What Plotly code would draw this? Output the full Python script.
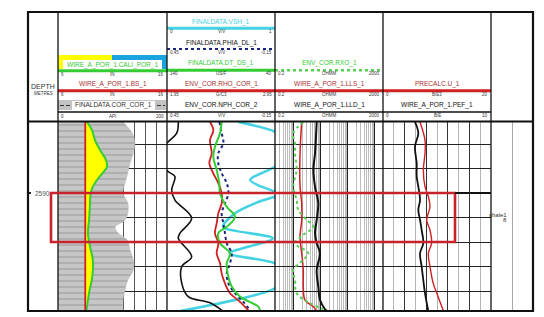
import plotly.graph_objects as go

DEPTH_TOP = 2587.102
DEPTH_BOTTOM = 2594.816
DEPTH_LABELS = [2590]

# Track 1
cor_depth = [2587.10, 2587.55, 2587.96, 2588.37, 2588.78, 2589.18, 2589.59, 2590.00, 2590.41, 2590.82,
             2591.10, 2591.39, 2591.63, 2591.92, 2592.33, 2592.73, 2593.14, 2593.55, 2593.96, 2594.37, 2594.82]
cor = [119, 136, 141, 138, 132, 128, 123, 119, 128, 128, 123, 105, 110, 127, 132, 138, 138, 128, 123, 119, 119]

bs_depth = [2587.10, 2594.82]
bs = [8.5, 8.5]

cali_depth = [2587.10, 2587.43, 2587.84, 2588.24, 2588.65, 2588.93, 2589.18, 2589.47, 2589.74, 2590.00,
              2590.41, 2591.10, 2591.63, 2592.19, 2592.73, 2593.14, 2593.55, 2594.08, 2594.64, 2594.82]
cali = [8.66, 9.12, 9.39, 9.85, 10.4, 10.5, 10.1, 9.58, 9.2, 9.0,
        8.94, 8.85, 8.75, 8.94, 9.2, 9.2, 9.1, 8.85, 8.66, 8.6]

# Track 2
vsh_depth = [2587.10, 2587.50, 2587.84, 2588.45, 2588.93, 2589.47, 2589.95, 2590.06, 2590.15, 2590.36,
             2590.86, 2591.38, 2591.85, 2592.46, 2592.87, 2593.35, 2593.89, 2594.82]
vsh = [0.66, 1.0, 1.1, 1.12, 1.0, 0.77, 1.0, 1.06, 1.0, 0.85,
       0.62, 0.52, 0.98, 0.58, 1.0, 1.12, 1.0, 0.12]

nph_depth = [2587.10, 2587.56, 2587.91, 2588.38, 2588.93, 2589.13, 2589.33, 2589.88, 2590.29, 2591.03,
             2591.64, 2591.85, 2592.60, 2593.00, 2593.69, 2594.23, 2594.48, 2594.82]
nph = [0.387, 0.396, 0.443, 0.50, 0.47, 0.443, 0.406, 0.424, 0.406, 0.313,
       0.378, 0.387, 0.313, 0.368, 0.368, 0.332, 0.211, 0.140]

rho_depth = [2587.10, 2587.43, 2587.84, 2588.38, 2588.79, 2589.20, 2589.60, 2590.01, 2590.42, 2590.83,
             2591.24, 2591.64, 2592.05, 2592.46, 2592.87, 2593.28, 2593.69, 2594.09, 2594.44, 2594.82]
rho = [2.348, 2.379, 2.348, 2.364, 2.342, 2.379, 2.425, 2.456, 2.456, 2.425,
       2.410, 2.394, 2.425, 2.410, 2.441, 2.456, 2.487, 2.533, 2.626, 2.710]

phia_depth = [2587.10, 2587.56, 2587.97, 2588.38, 2588.79, 2589.20, 2589.60, 2590.01, 2590.42, 2590.83,
              2591.24, 2591.64, 2592.05, 2592.46, 2592.87, 2593.28, 2593.69, 2594.09, 2594.44, 2594.82]
phia = [0.159, 0.146, 0.137, 0.165, 0.165, 0.146, 0.118, 0.109, 0.128, 0.146,
        0.137, 0.128, 0.118, 0.091, 0.100, 0.118, 0.109, 0.072, 0.026, -0.015]

dt_depth = [2587.10, 2587.56, 2588.11, 2588.52, 2589.06, 2589.60, 2590.01, 2590.56, 2590.97, 2591.38,
            2591.64, 2592.05, 2592.46, 2592.87, 2593.42, 2593.82, 2594.23, 2594.64, 2594.82]
dt = [89.4, 90.9, 95.6, 97.1, 94.0, 91.6, 90.9, 84.7, 77.0, 84.7,
      92.5, 90.9, 81.7, 84.7, 83.2, 80.1, 72.4, 55.5, 53.7]

# Track 3
rxo_depth = [2587.10, 2587.56, 2587.97, 2588.38, 2589.06, 2589.74, 2590.29, 2590.69, 2591.10, 2591.38,
             2591.71, 2592.05, 2592.46, 2592.73, 2593.14, 2593.55, 2594.09, 2594.50, 2594.82]
rxo = [2.23, 0.95, 1.1, 1.1, 1.27, 0.95, 1.27, 1.46, 2.99, 5.27,
       2.23, 1.1, 3.42, 2.23, 0.95, 1.1, 1.27, 3.96, 18.8]

lls_depth = [2587.10, 2588.38, 2589.74, 2590.42, 2591.10, 2591.78, 2592.46, 2593.14, 2593.82, 2594.37, 2594.64, 2594.82]
lls = [1.95, 1.69, 1.69, 1.95, 1.95, 1.69, 1.95, 2.23, 2.23, 2.58, 5.27, 7.0]

lld_depth = [2587.10, 2588.38, 2589.06, 2589.74, 2590.42, 2591.10, 2591.64, 2592.05, 2592.46, 2593.14,
             2593.82, 2594.37, 2594.64, 2594.82]
lld = [7.0, 6.06, 5.27, 6.06, 8.0, 7.0, 6.06, 7.0, 9.3, 7.0, 8.0, 9.3, 12.3, 16.5]

# Track 4
pef_depth = [2587.10, 2587.56, 2588.11, 2588.79, 2589.33, 2589.74, 2590.29, 2590.69, 2591.10, 2591.51,
             2592.05, 2592.46, 2593.00, 2593.55, 2594.09, 2594.82]
pef = [2.96, 3.27, 2.96, 3.12, 3.12, 3.27, 3.43, 3.27, 3.43, 3.58, 3.73, 3.43, 3.58, 3.73, 3.89, 4.19]

u_depth = [2587.10, 2587.84, 2588.38, 2589.06, 2589.74, 2590.15, 2590.56, 2591.10, 2591.51, 2592.05,
           2592.46, 2593.00, 2593.69, 2594.23, 2594.82]
u = [6.85, 7.78, 7.78, 7.47, 7.78, 8.4, 8.7, 8.09, 8.7, 9.0, 8.4, 8.7, 9.3, 10.2, 11.2]

# Zone (red box) and annotation
zone_top, zone_bottom = 2590, 2592
zone_label = ["shale1", "8"]

# Curve scales (left, unit, right)
SC_CALI = ["6", "IN", "16"]
SC_BS = ["6", "IN", "16"]
SC_COR = ["0", "API", "200"]
SC_VSH = ["0", "V/V", "1"]
SC_PHIA = ["0.45", "V/V", "-0.15"]
SC_DT = ["140", "US/F", "40"]
SC_RHO = ["1.95", "G/C3", "2.95"]
SC_NPH = ["0.45", "V/V", "-0.15"]
SC_RXO = ["0.2", "OHMM", "2000"]
SC_LLS = ["0.2", "OHMM", "2000"]
SC_LLD = ["0.2", "OHMM", "2000"]
SC_U = ["0", "B/E3", "20"]
SC_PEF = ["0", "B/E", "10"]

# ---------------- layout helpers ----------------
W, H = 544, 317
def PX(x): return x / W
def PY(y): return 1 - y / H

FONT = "Liberation Sans, Arial, sans-serif"
GREEN = "#33cc33"
RED = "#d02020"
DRED = "#a83232"
CYAN = "#45d3e3"
NAVY = "#1a237e"
BLACK = "#111111"
YEL = "#ffff00"
BLUEBOX = "#1aa3dc"

DATA_TOP, DATA_BOT = 122, 311
YDOM = [PY(DATA_BOT), PY(DATA_TOP)]
YRANGE = [DEPTH_BOTTOM, DEPTH_TOP]
T = {"d": (28, 58), "t1": (58, 167), "t2": (167, 275), "t3": (275, 383), "t4": (383, 491), "t5": (491, 533)}
def dom(k): return [PX(T[k][0]), PX(T[k][1])]

fig = go.Figure()

# ---- Track 1 ----
fig.add_trace(go.Scatter(x=cor, y=cor_depth, xaxis="x2", yaxis="y2", mode="lines", fill="tozerox",
                         fillcolor="#c6c6c6",
                         fillpattern=dict(shape="-", fgcolor="#505050", bgcolor="#c6c6c6", size=6, solidity=0.13),
                         line=dict(color="#b8b8b8", width=0.6, shape="spline"), hoverinfo="skip"))
fig.add_trace(go.Scatter(x=bs, y=bs_depth, xaxis="x3", yaxis="y2", mode="lines",
                         line=dict(color=RED, width=0), hoverinfo="skip"))
fig.add_trace(go.Scatter(x=cali, y=cali_depth, xaxis="x3", yaxis="y2", mode="lines", fill="tonextx",
                         fillcolor=YEL, line=dict(color=GREEN, width=2, shape="spline"), hoverinfo="skip"))
fig.add_trace(go.Scatter(x=bs, y=bs_depth, xaxis="x3", yaxis="y2", mode="lines",
                         line=dict(color=RED, width=1.8), hoverinfo="skip"))

# ---- Track 2 ----
fig.add_trace(go.Scatter(x=vsh, y=vsh_depth, xaxis="x5", yaxis="y3", mode="lines",
                         line=dict(color=CYAN, width=2.6, shape="spline", smoothing=0.8), hoverinfo="skip"))
fig.add_trace(go.Scatter(x=nph, y=nph_depth, xaxis="x6", yaxis="y3", mode="lines",
                         line=dict(color=BLACK, width=1.6, shape="spline"), hoverinfo="skip"))
fig.add_trace(go.Scatter(x=rho, y=rho_depth, xaxis="x7", yaxis="y3", mode="lines",
                         line=dict(color=RED, width=1.8, shape="spline"), hoverinfo="skip"))
fig.add_trace(go.Scatter(x=phia, y=phia_depth, xaxis="x8", yaxis="y3", mode="lines",
                         line=dict(color=NAVY, width=2, dash="dot", shape="spline"), hoverinfo="skip"))
fig.add_trace(go.Scatter(x=dt, y=dt_depth, xaxis="x9", yaxis="y3", mode="lines",
                         line=dict(color=GREEN, width=2, shape="spline"), hoverinfo="skip"))

# ---- Track 3 ----
fig.add_trace(go.Scatter(x=lld, y=lld_depth, xaxis="x10", yaxis="y4", mode="lines",
                         line=dict(color=BLACK, width=2, shape="spline"), hoverinfo="skip"))
fig.add_trace(go.Scatter(x=lls, y=lls_depth, xaxis="x10", yaxis="y4", mode="lines",
                         line=dict(color=RED, width=1.5, shape="spline"), hoverinfo="skip"))
fig.add_trace(go.Scatter(x=rxo, y=rxo_depth, xaxis="x10", yaxis="y4", mode="lines",
                         line=dict(color="#55d055", width=2, dash="dot", shape="spline"), hoverinfo="skip"))

# ---- Track 4 ----
fig.add_trace(go.Scatter(x=pef, y=pef_depth, xaxis="x11", yaxis="y5", mode="lines",
                         line=dict(color=BLACK, width=1.8, shape="spline"), hoverinfo="skip"))
fig.add_trace(go.Scatter(x=u, y=u_depth, xaxis="x12", yaxis="y5", mode="lines",
                         line=dict(color=RED, width=1.4, shape="spline"), hoverinfo="skip"))

# ---------------- axes ----------------
def base_x(k, anchor, rng, major, minor=None, gcol="#444", mcol="#b5b5b5", typ="linear"):
    d = dict(domain=dom(k), anchor=anchor, range=rng, type=typ, showticklabels=False, ticks="",
             showline=False, zeroline=False, tickmode="array", tickvals=major, showgrid=True,
             gridcolor=gcol, gridwidth=1, fixedrange=True)
    if minor is not None:
        d["minor"] = dict(tickmode="array", tickvals=minor, showgrid=True, gridcolor=mcol, gridwidth=1, ticks="")
    return d

def over_x(k, anchor, base, rng):
    return dict(domain=dom(k), anchor=anchor, overlaying=base, range=rng, visible=False, fixedrange=True)

def ytrack(anchor, grid=True):
    return dict(domain=YDOM, anchor=anchor, range=YRANGE, showticklabels=False, ticks="", zeroline=False,
                showline=False, showgrid=grid, dtick=1, tick0=2590, gridcolor="#222", gridwidth=1, fixedrange=True)

lay = dict(width=W, height=H, margin=dict(l=0, r=0, t=0, b=0), paper_bgcolor="white", plot_bgcolor="rgba(0,0,0,0)",
           showlegend=False, font=dict(family=FONT, color="#222"))

lay["xaxis"] = dict(domain=dom("d"), anchor="y", range=[0, 1], visible=False, fixedrange=True)
lay["yaxis"] = dict(domain=YDOM, anchor="x", range=YRANGE, tickmode="array", tickvals=DEPTH_LABELS,
                    ticks="inside", ticklen=3, tickwidth=2, tickcolor="#222", showticklabels=False,
                    showgrid=False, zeroline=False, showline=False, fixedrange=True)

lay["xaxis2"] = base_x("t1", "y2", [0, 200], [20 * i for i in range(11)], gcol="#555")
lay["xaxis3"] = over_x("t1", "y2", "x2", [6, 16])
lay["yaxis2"] = ytrack("x2")

lay["xaxis4"] = base_x("t2", "y3", [0, 10], [0, 3, 6, 9], [1, 2, 4, 5, 7, 8, 10], gcol="#333")
lay["xaxis5"] = over_x("t2", "y3", "x4", [0, 1])
lay["xaxis6"] = over_x("t2", "y3", "x4", [0.45, -0.15])
lay["xaxis7"] = over_x("t2", "y3", "x4", [1.95, 2.95])
lay["xaxis8"] = over_x("t2", "y3", "x4", [0.45, -0.15])
lay["xaxis9"] = over_x("t2", "y3", "x4", [140, 40])
lay["yaxis3"] = ytrack("x4")

log_minor = []
for dec in [0.1, 1, 10, 100]:
    for m in range(2, 10):
        v = dec * m
        if 0.2 < v < 2000:
            log_minor.append(v)
lay["xaxis10"] = base_x("t3", "y4", [-0.69897, 3.30103], [1, 10, 100, 1000], log_minor,
                        gcol="#222", mcol="#bdbdbd", typ="log")
lay["yaxis4"] = ytrack("x10")

lay["xaxis11"] = base_x("t4", "y5", [0, 10], [0, 2, 4, 6, 8, 10], [1, 3, 5, 7, 9], gcol="#333")
lay["xaxis12"] = over_x("t4", "y5", "x11", [0, 20])
lay["yaxis5"] = ytrack("x11")

lay["xaxis13"] = base_x("t5", "y6", [0, 1], [0.5], gcol="#aaaaaa")
lay["yaxis6"] = ytrack("x13", grid=False)

fig.update_layout(**lay)

# ---------------- frame & header ----------------
shapes = []
ann = []

def hline(x0, x1, y, color, width, dash="solid"):
    shapes.append(dict(type="line", xref="paper", yref="paper", x0=PX(x0), x1=PX(x1), y0=PY(y), y1=PY(y),
                       line=dict(color=color, width=width, dash=dash)))

def rect(x0, x1, y0, y1, fill, lw=0, lc=None):
    shapes.append(dict(type="rect", xref="paper", yref="paper", x0=PX(x0), x1=PX(x1), y0=PY(y1), y1=PY(y0),
                       fillcolor=fill, line=dict(width=lw, color=lc or fill), layer="above"))

def text(x, y, s, color="#222", size=6.5, anchor="center"):
    ann.append(dict(xref="paper", yref="paper", x=PX(x), y=PY(y), text=s, showarrow=False,
                    xanchor=anchor, yanchor="middle", font=dict(size=size, color=color, family=FONT)))

def scale(k, y, sc):
    x0, x1 = T[k]
    text(x0 + 1, y, sc[0], "#333", 4.5, "left")
    text((x0 + x1) / 2, y, sc[1], "#333", 4.5, "center")
    text(x1 - 1, y, sc[2], "#333", 4.5, "right")

def curve_head(k, name, tcolor, ty, ly, lcolor, lwidth, sc, dash="solid"):
    x0, x1 = T[k]
    text((x0 + x1) / 2, ty, name, tcolor)
    hline(x0, x1, ly, lcolor, lwidth, dash)
    scale(k, ly + 3.4, sc)

# Track 1 header
rect(58, 112, 55, 69, YEL)
rect(112, 167, 55, 69, BLUEBOX)
rect(63, 162, 60, 69, "white")
text(112, 64.5, "WIRE_A_POR_1.CALI_POR_1", GREEN)
hline(58, 167, 70.7, GREEN, 3)
scale("t1", 74, SC_CALI)
curve_head("t1", "WIRE_A_POR_1.BS_1", DRED, 84, 90.7, RED, 3, SC_BS)
rect(58, 166, 100, 110, "#c3c3c3")
rect(72, 155, 101, 110, "white")
for a, b in [(60, 64), (66, 70), (157, 161), (163, 165)]:
    hline(a, b, 105.5, "#333", 1)
text(113, 105.5, "FINALDATA.COR_COR_1", "#333")
hline(58, 167, 112, BLACK, 1.5)
scale("t1", 116.5, SC_COR)

# Track 2 header
curve_head("t2", "FINALDATA.VSH_1", CYAN, 21.5, 28.3, CYAN, 3, SC_VSH)
curve_head("t2", "FINALDATA.PHIA_DL_1", BLACK, 42.5, 49, NAVY, 2.2, SC_PHIA, "dot")
curve_head("t2", "FINALDATA.DT_DS_1", GREEN, 63, 70.3, GREEN, 3, SC_DT)
curve_head("t2", "ENV_COR.RHO_COR_1", DRED, 84, 90.7, RED, 3, SC_RHO)
curve_head("t2", "ENV_COR.NPH_COR_2", BLACK, 105.5, 112, BLACK, 1.5, SC_NPH)

# Track 3 header
curve_head("t3", "ENV_COR.RXO_1", GREEN, 63, 70.3, "#55d055", 2.5, SC_RXO, "dot")
curve_head("t3", "WIRE_A_POR_1.LLS_1", DRED, 84, 90.7, RED, 3, SC_LLS)
curve_head("t3", "WIRE_A_POR_1.LLD_1", BLACK, 105.5, 112, BLACK, 1.5, SC_LLD)

# Track 4 header
curve_head("t4", "PRECALC.U_1", DRED, 84, 90.7, RED, 3, SC_U)
curve_head("t4", "WIRE_A_POR_1.PEF_1", BLACK, 105.5, 112, BLACK, 1.5, SC_PEF)

# Depth header
text(43, 86, "DEPTH", "#333", 7)
text(43, 93.5, "METRES", "#333", 4.5)

# Depth labels (placed on the depth axis scale)
for dv in DEPTH_LABELS:
    ann.append(dict(xref="paper", yref="y", x=PX(32.5), y=dv, text=str(dv), showarrow=False,
                    xanchor="left", yanchor="middle", font=dict(size=6.5, color="#555", family=FONT)))

# Frame
for xv in [58, 167, 275, 383, 491]:
    shapes.append(dict(type="line", xref="paper", yref="paper", x0=PX(xv), x1=PX(xv), y0=PY(12), y1=PY(311),
                       line=dict(color=BLACK, width=1.3)))
hline(28, 533, 121.5, BLACK, 2)
shapes.append(dict(type="rect", xref="paper", yref="paper", x0=PX(28), x1=PX(533), y0=PY(311), y1=PY(12),
                   line=dict(color=BLACK, width=2.2)))

# Zone box
shapes.append(dict(type="rect", xref="paper", yref="y2", x0=PX(51), x1=PX(455), y0=zone_top, y1=zone_bottom,
                   line=dict(color="#c8232c", width=2.6), layer="above"))
shapes.append(dict(type="line", xref="paper", yref="y5", x0=PX(455), x1=PX(491), y0=zone_top, y1=zone_top,
                   line=dict(color=BLACK, width=2), layer="above"))
ann.append(dict(xref="paper", yref="y6", x=PX(509), y=zone_top + 0.88, text=zone_label[0], showarrow=False,
                font=dict(size=6, color="#333", family=FONT)))
ann.append(dict(xref="paper", yref="y6", x=PX(509), y=zone_top + 1.12, text=zone_label[1], showarrow=False,
                font=dict(size=6, color="#333", family=FONT)))

fig.update_layout(shapes=shapes, annotations=ann)
fig.write_html("out.html")
